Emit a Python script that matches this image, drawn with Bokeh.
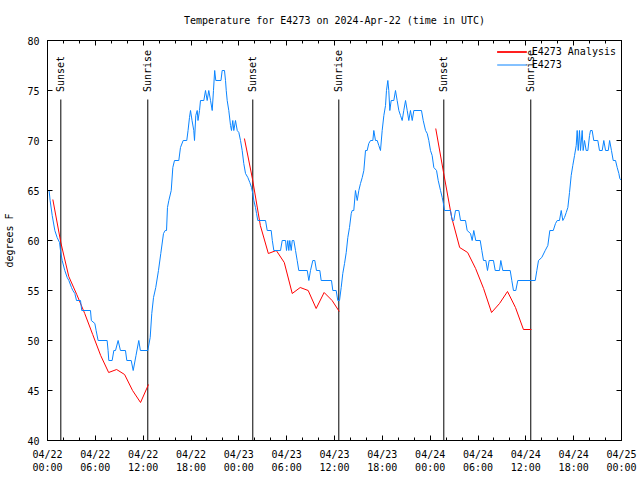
import math
from bokeh.plotting import figure
from bokeh.models import Range1d, FixedTicker, LinearAxis, Legend, LegendItem
from bokeh.core.properties import value
from bokeh.embed import file_html
from bokeh.resources import INLINE

# ---------------- data (hours since 2024-04-22 00:00 UTC, degrees F) ----------------
blue_h = [0.08, 0.2, 0.33, 0.59, 0.92, 1.21, 1.51, 1.63, 1.84, 2.17,
          2.47, 2.68, 3.01, 3.18, 3.43, 3.64, 4.14, 4.3, 5.39, 5.5,
          5.94, 6.10, 6.35, 7.48, 7.6, 7.69, 8.11, 8.32, 8.53, 8.86,
          9.15, 9.78, 9.95, 10.5, 10.75, 11.1, 11.45, 11.65, 12.58, 12.88,
          13.08, 13.30, 13.58, 13.92, 14.21, 14.55, 14.76, 14.93, 15.05, 15.22,
          15.52, 15.72, 15.93, 16.47, 16.68, 17.02, 17.47, 17.63, 17.81, 17.94,
          18.13, 18.35, 18.44, 18.6, 18.78, 18.88, 19.07, 19.19, 19.61, 19.82,
          20.03, 20.23, 20.45, 20.66, 20.82, 20.97, 21.11, 21.76, 21.91, 22.2,
          22.33, 22.42, 22.54, 22.74, 22.96, 23.08, 23.24, 23.37, 23.58, 23.8,
          24.0, 24.21, 24.42, 24.62, 24.84, 25.13, 25.38, 25.59, 25.75, 25.88,
          26.09, 26.22, 26.38, 27.35, 27.56, 28.06, 28.2, 28.39, 29.23, 29.44,
          29.86, 29.98, 30.14, 30.27, 30.39, 30.57, 30.7, 30.9, 31.11, 31.32,
          31.52, 32.58, 32.78, 32.99, 33.28, 33.53, 33.74, 34.16, 34.33, 35.62,
          35.79, 36.21, 36.41, 36.63, 36.84, 37.04, 37.26, 37.47, 37.67, 37.88,
          38.1, 38.22, 38.42, 38.63, 38.85, 39.05, 39.26, 39.48, 39.68, 39.89,
          40.1, 40.3, 40.52, 40.81, 40.93, 41.14, 41.36, 41.56, 41.77, 41.98,
          42.19, 42.4, 42.52, 42.69, 42.81, 42.94, 43.11, 43.44, 43.65, 43.86,
          44.07, 44.28, 44.49, 44.69, 44.91, 45.12, 45.32, 45.53, 45.75, 45.95,
          46.91, 47.13, 47.42, 47.63, 47.83, 48.04, 48.25, 48.46, 48.8, 49.01,
          49.3, 49.51, 49.64, 49.8, 50.55, 50.77, 50.97, 51.18, 51.6, 51.81,
          52.43, 52.64, 53.06, 53.27, 53.47, 53.72, 54.28, 54.48, 54.69, 54.98,
          55.19, 55.4, 55.94, 56.16, 56.7, 56.86, 57.11, 58.04, 58.24, 58.45,
          58.74, 58.99, 61.18, 61.38, 61.59, 62.0, 62.43, 62.76, 63.01, 63.44,
          63.72, 63.94, 64.22, 64.44, 64.64, 64.85, 65.07, 65.27, 65.48, 65.69,
          65.89, 66.11, 66.32, 66.44, 66.57, 66.73, 66.86, 67.07, 67.19, 67.36,
          67.57, 67.78, 67.99, 68.11, 68.32, 68.52, 69.03, 69.24, 69.58, 69.78,
          70.0, 70.34, 70.51, 70.74, 70.96, 71.25, 71.46, 71.67, 71.79, 72.0]
blue_t = [65, 65, 64, 62.5, 61, 60.3, 59.8, 59, 58, 57,
          56.3, 56, 55.3, 55, 54.7, 54, 54, 53, 53, 52,
          51.7, 51, 50, 50, 49, 48, 48, 49, 49, 50,
          49, 49, 48, 48, 47, 48.5, 50, 49, 49, 50.3,
          52.7, 54.3, 55.3, 57, 58.7, 60.7, 61, 61, 63.3, 64,
          65, 67.3, 68, 68, 69.3, 70, 70, 71, 72.3, 73,
          72, 71, 70, 72.5, 73, 72, 73, 74, 74, 75,
          74, 75, 74, 73, 75, 77, 76, 76, 77, 77,
          76, 75, 74, 73, 71.5, 71, 72, 71, 72, 71,
          70.8, 70, 69, 67.7, 66.7, 66.3, 65.8, 65.3, 64.7, 64,
          63.3, 62.7, 62, 62, 61, 61, 60, 59, 59, 60,
          60, 59, 60, 59, 60, 59, 60, 60, 59, 58,
          57, 57, 56, 57, 58, 58, 57, 57, 56, 56,
          55, 55, 54, 54, 55.3, 56.7, 57.7, 58.8, 60.3, 61.3,
          62.7, 63, 63, 65, 64, 65, 65.7, 66.3, 67, 69,
          69, 69.7, 70, 70, 71, 70, 70, 69.5, 69, 71,
          72.5, 73.5, 75, 76, 75, 73, 74, 74, 75, 74,
          73, 72.5, 72, 73, 74, 73, 72, 73, 72, 73,
          73, 72, 71, 70.7, 70, 69, 68.5, 67.3, 67, 66,
          65, 64.3, 63.8, 63, 63, 62, 62, 63, 63, 62,
          62, 61, 60.7, 60, 61, 60, 60, 59, 58, 58,
          57, 58, 58, 57, 57, 58, 57, 57, 56, 55,
          55, 56, 56, 57, 58, 58.3, 59, 59.5, 61, 61,
          61.7, 62, 62, 63, 62, 62.3, 62.8, 63.3, 64.8, 66.5,
          67.5, 68.5, 69.5, 71, 69, 71, 69, 71, 69, 70,
          69, 69, 70.5, 71, 71, 70, 70, 69, 69, 70,
          69, 69, 70, 69, 68, 68, 67.3, 66.7, 66.2, 66]

red1_h = [0.67, 1.67, 2.67, 3.67, 4.67, 5.67, 6.67, 7.67, 8.67, 9.67, 10.67, 11.67, 12.67]
red1_t = [64.1, 59.8, 56.4, 54.6, 52.7, 50.6, 48.5, 46.8, 47.1, 46.6, 45.0, 43.8, 45.6]
red2_h = [24.7, 25.7, 26.7, 27.7, 28.7, 29.7, 30.7, 31.7, 32.7, 33.7, 34.7, 35.7, 36.6]
red2_t = [70.2, 66.2, 61.5, 58.7, 59.0, 57.8, 54.7, 55.3, 55.0, 53.2, 54.8, 54.0, 52.9]
red3_h = [48.7, 49.7, 50.7, 51.7, 52.7, 53.7, 54.7, 55.7, 56.7, 57.7, 58.7, 59.7, 60.7]
red3_t = [71.2, 66.7, 62.3, 59.3, 58.8, 57.2, 55.2, 52.8, 53.7, 54.9, 53.3, 51.1, 51.1]

event_h = [1.67, 12.58, 25.75, 36.54, 49.71, 60.62]
event_names = ["Sunset", "Sunrise", "Sunset", "Sunrise", "Sunset", "Sunrise"]

x_ticks = [0, 6, 12, 18, 24, 30, 36, 42, 48, 54, 60, 66, 72]
x_tick_labels = ["04/22\n00:00", "04/22\n06:00", "04/22\n12:00", "04/22\n18:00",
                 "04/23\n00:00", "04/23\n06:00", "04/23\n12:00", "04/23\n18:00",
                 "04/24\n00:00", "04/24\n06:00", "04/24\n12:00", "04/24\n18:00",
                 "04/25\n00:00"]
x_minor = [0, 2, 4, 6, 8, 10, 12, 14, 16, 18, 20, 22, 24, 26, 28, 30, 32, 34, 36,
           38, 40, 42, 44, 46, 48, 50, 52, 54, 56, 58, 60, 62, 64, 66, 68, 70, 72]
y_ticks = [40, 45, 50, 55, 60, 65, 70, 75, 80]

# ---------------- styling ----------------
FONT = "DejaVu Sans Mono"
FS = "10px"
RED = "#ff0000"
BLUE = "#0a84ff"

p = figure(width=640, height=480, output_backend="svg", toolbar_location=None,
           x_range=Range1d(0, 72), y_range=Range1d(40, 80),
           x_axis_location=None, y_axis_location=None,
           min_border_left=47, min_border_right=19, min_border_top=40, min_border_bottom=40)
p.xgrid.visible = False
p.ygrid.visible = False
p.outline_line_color = "black"
p.outline_line_alpha = 1.0
p.background_fill_color = "white"
p.border_fill_color = "white"

p.title.text = "Temperature for E4273 on 2024-Apr-22 (time in UTC)"
p.title.align = "center"
p.title.vertical_align = "top"
p.title.text_font = FONT
p.title.text_font_size = FS
p.title.text_font_style = "normal"
p.title.text_color = "black"
p.title.standoff = 25


def style_axis(ax, ticker, labels=None):
    ax.ticker = ticker
    ax.axis_line_color = "black"
    ax.major_tick_in = 5
    ax.major_tick_out = 0
    ax.minor_tick_in = 3
    ax.minor_tick_out = 0
    ax.major_tick_line_color = "black"
    ax.minor_tick_line_color = "black"
    ax.major_label_text_font = FONT
    ax.major_label_text_font_size = FS
    ax.major_label_text_color = "black"
    if labels is False:
        ax.major_label_overrides = {t: "" for t in ticker.ticks}
        ax.major_label_text_font_size = "0px"
        ax.major_label_standoff = 0
    elif labels is not None:
        ax.major_label_overrides = labels


xt = FixedTicker(ticks=x_ticks, minor_ticks=x_minor)
yt = FixedTicker(ticks=y_ticks, minor_ticks=[])

xb = LinearAxis()
style_axis(xb, xt, dict(zip(x_ticks, x_tick_labels)))
xb.major_label_standoff = 8
xb.major_label_text_line_height = 1.2
p.add_layout(xb, "below")

xa = LinearAxis()
style_axis(xa, FixedTicker(ticks=x_ticks, minor_ticks=x_minor), False)
p.add_layout(xa, "above")

yl = LinearAxis(axis_label="degrees F")
style_axis(yl, yt)
yl.major_label_standoff = 8
yl.axis_label_text_font = FONT
yl.axis_label_text_font_size = FS
yl.axis_label_text_font_style = "normal"
yl.axis_label_text_color = "black"
yl.axis_label_standoff = 9
p.add_layout(yl, "left")

yr = LinearAxis()
style_axis(yr, FixedTicker(ticks=y_ticks, minor_ticks=[]), False)
p.add_layout(yr, "right")

# sunset / sunrise markers
p.segment(x0=event_h, y0=40, x1=event_h, y1=74.1, line_color="black", line_width=1)
p.text(x=event_h, y=74.85, text=event_names, angle=math.pi / 2,
       text_align="left", text_baseline="middle",
       text_font=value(FONT), text_font_size=FS, text_color="black")

# series
reds = []
for hh, tt in ((red1_h, red1_t), (red2_h, red2_t), (red3_h, red3_t)):
    reds.append(p.line(hh, tt, line_color=RED, line_width=1))
rb = p.line(blue_h, blue_t, line_color=BLUE, line_width=1)

legend = Legend(items=[LegendItem(label="E4273 Analysis", renderers=reds),
                       LegendItem(label="E4273", renderers=[rb])],
                location="top_right")
legend.border_line_color = None
legend.background_fill_alpha = 0
legend.label_text_font = FONT
legend.label_text_font_size = FS
legend.label_text_color = "black"
legend.glyph_width = 30
legend.glyph_height = 13
legend.label_height = 13
legend.spacing = 0
legend.padding = 4
legend.margin = 5
legend.label_standoff = 5
p.add_layout(legend)

open("out.html", "w").write(file_html(p, INLINE))
